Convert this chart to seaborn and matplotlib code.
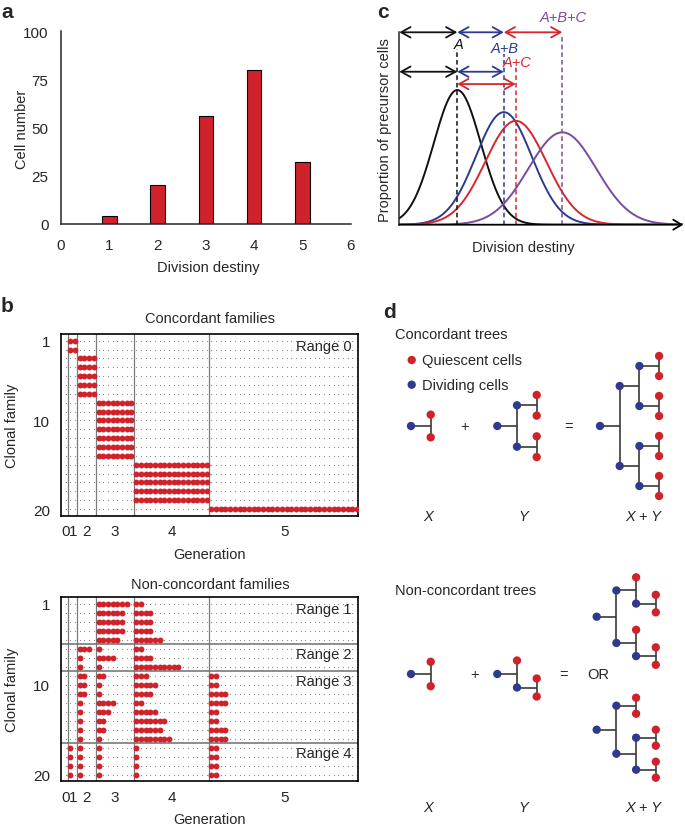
import numpy as np
import pandas as pd
import seaborn as sns
import matplotlib.pyplot as plt

# ---- data -----------------------------------------------------------------
# a: cell number per division destiny
destiny = [1, 2, 3, 4, 5]
cell_number = [4, 20, 56, 80, 32]

# c: schematic destiny distributions (mean, sd, peak height)
curve_names = ["A", "A+B", "A+C", "A+B+C"]
curve_mean = [5.8, 10.45, 11.65, 16.3]
curve_sd = [2.35, 2.8, 3.05, 3.4]
curve_peak = [0.70, 0.585, 0.54, 0.48]
curve_colors = ["#111111", "#2e3a8f", "#d7262e", "#7b4a9e"]
dash_top = [0.913, 0.887, 0.82, 0.986]
label_y = [0.939, 0.918, 0.846, 1.078]
# arrows: (from curve, to curve, row height, colour); -1 = origin
arrow_from = [-1, 0, 1, -1, 0, 0]
arrow_to = [0, 1, 3, 0, 1, 2]
arrow_y = [1.0, 1.0, 1.0, 0.795, 0.795, 0.731]
arrow_col = [0, 1, 2, 0, 1, 2]

# b: cells per generation (gen 0..5) for each clonal family
concordant = [
    [0, 2, 0, 0, 0, 0], [0, 2, 0, 0, 0, 0],
    [0, 0, 4, 0, 0, 0], [0, 0, 4, 0, 0, 0], [0, 0, 4, 0, 0, 0],
    [0, 0, 4, 0, 0, 0], [0, 0, 4, 0, 0, 0],
    [0, 0, 0, 8, 0, 0], [0, 0, 0, 8, 0, 0], [0, 0, 0, 8, 0, 0],
    [0, 0, 0, 8, 0, 0], [0, 0, 0, 8, 0, 0], [0, 0, 0, 8, 0, 0],
    [0, 0, 0, 8, 0, 0],
    [0, 0, 0, 0, 16, 0], [0, 0, 0, 0, 16, 0], [0, 0, 0, 0, 16, 0],
    [0, 0, 0, 0, 16, 0], [0, 0, 0, 0, 16, 0],
    [0, 0, 0, 0, 0, 32],
]
concordant_range = [0] * 20
non_concordant = [
    [0, 0, 0, 7, 2, 0], [0, 0, 0, 6, 4, 0], [0, 0, 0, 6, 4, 0],
    [0, 0, 0, 6, 4, 0], [0, 0, 0, 5, 6, 0],
    [0, 0, 3, 1, 2, 0], [0, 0, 1, 4, 4, 0], [0, 0, 1, 1, 10, 0],
    [0, 0, 2, 2, 3, 2], [0, 0, 2, 1, 5, 2], [0, 0, 2, 1, 4, 4],
    [0, 0, 1, 4, 2, 4], [0, 0, 1, 3, 5, 2], [0, 0, 1, 2, 7, 2],
    [0, 0, 1, 2, 6, 4], [0, 0, 1, 1, 8, 4],
    [0, 1, 1, 1, 1, 2], [0, 1, 1, 1, 1, 2], [0, 1, 1, 1, 1, 2],
    [0, 1, 1, 1, 1, 2],
]
non_concordant_range = [1] * 5 + [2] * 3 + [3] * 8 + [4] * 4
generations = [0, 1, 2, 3, 4, 5]

# d: trees, "q" = quiescent cell, tuple = dividing cell
tree_x = ("q", "q")
tree_y_conc = (("q", "q"), ("q", "q"))
tree_xy_conc = ((("q", "q"), ("q", "q")), (("q", "q"), ("q", "q")))
tree_y_nc = ("q", ("q", "q"))
tree_xy_nc1 = (("q", ("q", "q")), ("q", ("q", "q")))
tree_xy_nc2 = (("q", "q"), (("q", "q"), ("q", "q")))

RED = "#cf222a"
BLUE = "#2e3a8c"
W, H = 685, 828
FS = 10.5   # text size
TS = 11     # tick label size

sns.set_style("white")
plt.rcParams["font.family"] = ["Liberation Sans", "DejaVu Sans"]
plt.rcParams["font.size"] = FS

fig = plt.figure(figsize=(W / 100, H / 100), dpi=100)


def box(x0, y0, x1, y1):
    # pixel box -> figure fraction
    return [x0 / W, 1 - y1 / H, (x1 - x0) / W, (y1 - y0) / H]


def ftext(x, y, s, **kw):
    kw.setdefault("ha", "center")
    kw.setdefault("va", "center")
    fig.text(x / W, 1 - y / H, s, **kw)


# ---- panel a ---------------------------------------------------------------
ax = fig.add_axes(box(61, 32.3, 350.7, 225))
sns.barplot(x=destiny, y=cell_number, native_scale=True, width=0.3,
            color=RED, saturation=1, edgecolor="black", linewidth=0.8,
            errorbar=None, ax=ax)
ax.set_xlim(0, 6)
ax.set_ylim(0, 100)
ax.set_xticks(range(7))
ax.set_yticks([0, 25, 50, 75, 100])
sns.despine(ax=ax)
for s in ("left", "bottom"):
    ax.spines[s].set_linewidth(1.1)
ax.tick_params(length=5, width=1.1, labelsize=TS, pad=4)
ax.tick_params(axis="x", pad=5)
ax.set_xlabel("")
ax.set_ylabel("")
ftext(22, 129, "Cell number", rotation=90)
ftext(208, 268, "Division destiny")
ftext(7, 13, "a", fontsize=15, fontweight="bold")

# ---- panel c ---------------------------------------------------------------
axc = fig.add_axes(box(399.3, 10.2, 683.3, 225.7))
xs = np.linspace(0, 28.4, 500)
frames = []
for name, mu, sd, pk in zip(curve_names, curve_mean, curve_sd, curve_peak):
    frames.append(pd.DataFrame({"x": xs,
                                "y": pk * np.exp(-(xs - mu) ** 2 / (2 * sd ** 2)),
                                "curve": name}))
df_c = pd.concat(frames)
sns.lineplot(data=df_c, x="x", y="y", hue="curve",
             palette=dict(zip(curve_names, curve_colors)), legend=False,
             lw=1.4, ax=axc)
axc.set_xlim(0, 28.4)
axc.set_ylim(0, 1.12)
for s in ["top", "right", "bottom"]:
    axc.spines[s].set_visible(False)
axc.spines["left"].set_bounds(0, 1.0)
axc.spines["left"].set_linewidth(1.1)
axc.set_xticks([])
axc.set_yticks([])
axc.set_xlabel("")
axc.set_ylabel("")
axc.annotate("", xy=(28.4, 0), xytext=(0, 0),
             arrowprops=dict(arrowstyle="->,head_length=0.5,head_width=0.3",
                             lw=1.3, color="black", shrinkA=0, shrinkB=0,
                             mutation_scale=12),
             annotation_clip=False)
axc.vlines(curve_mean, 0, dash_top, colors=curve_colors,
           linestyles=(0, (3, 2)), lw=1.1)
for f, t, y, c in zip(arrow_from, arrow_to, arrow_y, arrow_col):
    x0 = 0 if f < 0 else curve_mean[f]
    axc.annotate("", xy=(curve_mean[t], y), xytext=(x0, y),
                 arrowprops=dict(arrowstyle="<->,head_length=0.45,head_width=0.25",
                                 lw=1.3, color=curve_colors[c],
                                 shrinkA=0, shrinkB=0, mutation_scale=15),
                 annotation_clip=False)
for name, mu, y, c in zip(curve_names, curve_mean, label_y, curve_colors):
    axc.text(mu + 0.1, y, name, color=c, style="italic", fontsize=FS,
             ha="center", va="center")
ftext(385, 130, "Proportion of precursor cells", rotation=90)
ftext(523, 248, "Division destiny")
ftext(383, 13, "c", fontsize=15, fontweight="bold")


# ---- panel b ---------------------------------------------------------------
def families(rect, counts, ranges, ylim, title, title_y, xlab_y, ylab_y):
    axb = fig.add_axes(box(*rect))
    n_fam = len(counts)
    n_slots = 2 ** (generations[-1] + 1) - 1
    # background dot grid
    gx, gy = np.meshgrid(np.arange(1, n_slots + 1), np.arange(1, n_fam + 1))
    axb.scatter(gx.ravel(), gy.ravel(), s=0.8, color="#8a8a8a",
                linewidths=0, zorder=1)
    bounds = [2 ** g - 0.5 for g in generations[1:]]
    for b in bounds:
        axb.axvline(b, color="#7a7a7a", lw=0.9, zorder=2)
    for i in range(1, n_fam):
        if ranges[i] != ranges[i - 1]:
            axb.axhline(i + 0.5, color="#6e6e6e", lw=1.1, zorder=2)
    pts = []
    for fam, row in enumerate(counts, start=1):
        for g, n in zip(generations, row):
            for k in range(n):
                pts.append((2 ** g + k, fam))
    df_b = pd.DataFrame(pts, columns=["slot", "family"])
    sns.scatterplot(data=df_b, x="slot", y="family", color=RED, s=18,
                    linewidth=0, ax=axb, zorder=3)
    axb.set_xlim(0, 63.2)
    axb.set_ylim(*ylim)
    fams = list(range(1, n_fam + 1))
    axb.set_yticks(fams)
    axb.set_yticklabels([str(f) if f in (1, 10, 20) else "" for f in fams])
    axb.set_xticks(bounds)
    axb.set_xticklabels([])
    centers = [1.5 * 2 ** g - 0.5 for g in generations]
    axb.set_xticks(centers, minor=True)
    axb.set_xticklabels([str(g) for g in generations], minor=True)
    axb.tick_params(axis="y", length=5, width=1.1, labelsize=TS, pad=3)
    axb.tick_params(axis="x", which="major", length=5, color="#7a7a7a")
    axb.tick_params(axis="x", which="minor", length=0, labelsize=TS, pad=6)
    for s in axb.spines.values():
        s.set_linewidth(1.2)
        s.set_color("black")
    axb.set_xlabel("")
    axb.set_ylabel("")
    for r in sorted(set(ranges)):
        start = ranges.index(r) + 1
        axb.text(61.8, start + 0.55, f"Range {r}", ha="right", va="center",
                 fontsize=FS, zorder=4)
    ftext(210, title_y, title)
    ftext(210, xlab_y, "Generation")
    ftext(12, ylab_y, "Clonal family", rotation=90)


families((61, 335, 358, 516.7), concordant, concordant_range, (20.75, 0.25),
         "Concordant families", 319, 555, 426)
families((61, 598.3, 358, 782.3), non_concordant, non_concordant_range,
         (20.7, 0.3), "Non-concordant families", 585, 820, 690)
ftext(7, 307, "b", fontsize=15, fontweight="bold")

# ---- panel d ---------------------------------------------------------------
axd = fig.add_axes(box(360, 290, 685, 828))


def place(tree, depth, counter):
    if tree == "q":
        y = counter[0]
        counter[0] += 1
        return y, [(depth, y, "q")], []
    ys, nodes, edges = [], [], []
    for child in tree:
        cy, cn, ce = place(child, depth + 1, counter)
        ys.append(cy)
        nodes += cn
        edges += ce
    y = float(np.mean(ys))
    nodes.append((depth, y, "d"))
    edges.append((depth, y, ys))
    return y, nodes, edges


DX = 19.7
tree_specs = [
    (tree_x, 411, 427, 22.7), (tree_y_conc, 497.3, 427, 20.7),
    (tree_xy_conc, 600, 427, 20),
    (tree_x, 411, 675, 24.4), (tree_y_nc, 497.3, 675, 18),
    (tree_xy_nc1, 596.7, 617.7, 17.5), (tree_xy_nc2, 596.7, 730.7, 16),
]
node_rows = []
for tree, rx, ry, sp in tree_specs:
    root_y, nodes, edges = place(tree, 0, [0])
    for depth, y, ys in edges:
        x = rx + depth * DX
        yy = ry + (y - root_y) * sp
        axd.hlines(yy, x, x + DX, color="#3a3a3a", lw=1.2, zorder=1)
        axd.vlines(x + DX, ry + (min(ys) - root_y) * sp,
                   ry + (max(ys) - root_y) * sp, color="#3a3a3a",
                   lw=1.2, zorder=1)
    for depth, y, kind in nodes:
        node_rows.append((rx + depth * DX, ry + (y - root_y) * sp, kind))
df_d = pd.DataFrame(node_rows, columns=["x", "y", "kind"])
sns.scatterplot(data=df_d, x="x", y="y", hue="kind",
                palette={"q": RED, "d": BLUE}, s=36, linewidth=0,
                legend=False, ax=axd, zorder=3)
axd.set_xlim(360, 685)
axd.set_ylim(828, 290)
axd.axis("off")

# legend and annotations
axd.scatter([411.7, 411.7], [361, 385.7], c=[RED, BLUE], s=36, linewidths=0)
axd.text(421.5, 361, "Quiescent cells", va="center", fontsize=FS)
axd.text(421.5, 385.7, "Dividing cells", va="center", fontsize=FS)
axd.text(395, 335, "Concordant trees", va="center", fontsize=FS)
axd.text(395, 590.7, "Non-concordant trees", va="center", fontsize=FS)
axd.text(465, 427, "+", ha="center", va="center", fontsize=FS)
axd.text(568.3, 427, "=", ha="center", va="center", fontsize=FS)
axd.text(475, 675, "+", ha="center", va="center", fontsize=FS)
axd.text(564, 675, "=", ha="center", va="center", fontsize=FS)
axd.text(598.3, 675, "OR", ha="center", va="center", fontsize=FS)
for yy in (516.7, 808.3):
    axd.text(428.5, yy, "X", ha="center", va="center", style="italic")
    axd.text(523.3, yy, "Y", ha="center", va="center", style="italic")
    axd.text(643.3, yy, "X + Y", ha="center", va="center", style="italic")
ftext(390, 313, "d", fontsize=15, fontweight="bold")

fig.savefig("out.png", dpi=100)
